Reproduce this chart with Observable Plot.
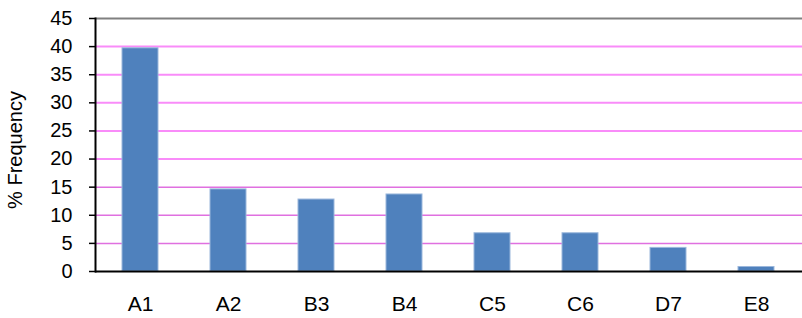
<!DOCTYPE html>
<html>
<head>
<meta charset="utf-8">
<script src="https://cdn.jsdelivr.net/npm/d3@7"></script>
<script src="https://cdn.jsdelivr.net/npm/@observablehq/plot@0.6"></script>
<style>
  html, body { margin: 0; padding: 0; background: #fff; }
  #chart svg { display: block; font-family: "Liberation Sans", Arial, sans-serif; }
  #chart svg text { font-size: 20px !important; fill: #000; }
  #chart svg g[aria-label="x-axis tick label"] text { font-size: 21px !important; }
</style>
</head>
<body>
<div id="chart"></div>
<script>
const categories = ["A1", "A2", "B3", "B4", "C5", "C6", "D7", "E8"];
const values = [39.7, 14.6, 12.8, 13.7, 6.8, 6.8, 4.2, 0.8];
const yTicks = [0, 5, 10, 15, 20, 25, 30, 35, 40, 45];
const upperGrid = [20, 25, 30, 35, 40];
const lowerGrid = [5, 10, 15];

const data = categories.map((c, i) => ({category: c, value: values[i]}));

const chart = Plot.plot({
  width: 802,
  height: 318,
  marginLeft: 95,
  marginRight: 0,
  marginTop: 18,
  marginBottom: 47,
  style: {fontFamily: "'Liberation Sans', Arial, sans-serif", fontSize: "20px", color: "#000", background: "#fff"},
  x: {domain: categories, paddingInner: 0.59, paddingOuter: 0.295, label: null},
  y: {domain: [0, 45], label: null},
  marks: [
    Plot.ruleY(upperGrid, {stroke: "#f98cf9", strokeWidth: 2}),
    Plot.ruleY(lowerGrid, {stroke: "#e070e0", strokeWidth: 1.5}),
    Plot.ruleY([45], {stroke: "#808080", strokeWidth: 2}),
    Plot.barY(data, {x: "category", y: "value", fill: "#4f81bd", stroke: "#9bb7dc", strokeWidth: 1}),
    Plot.axisY({ticks: yTicks, tickSize: 6, tickPadding: 17, stroke: "#000", strokeWidth: 1.5, label: null}),
    Plot.axisX({tickSize: 0, tickPadding: 25, label: null}),
    Plot.frame({anchor: "left", stroke: "#000", strokeWidth: 2}),
    Plot.ruleY([0], {stroke: "#000", strokeWidth: 2})
  ]
});
document.getElementById("chart").appendChild(chart);

// y-axis title
const svg = d3.select(chart);
svg.append("text")
  .attr("transform", "translate(17,150) rotate(-90)")
  .attr("text-anchor", "middle")
  .attr("dominant-baseline", "middle")
  .attr("fill", "#000")
  .text("% Frequency");
</script>
</body>
</html>
